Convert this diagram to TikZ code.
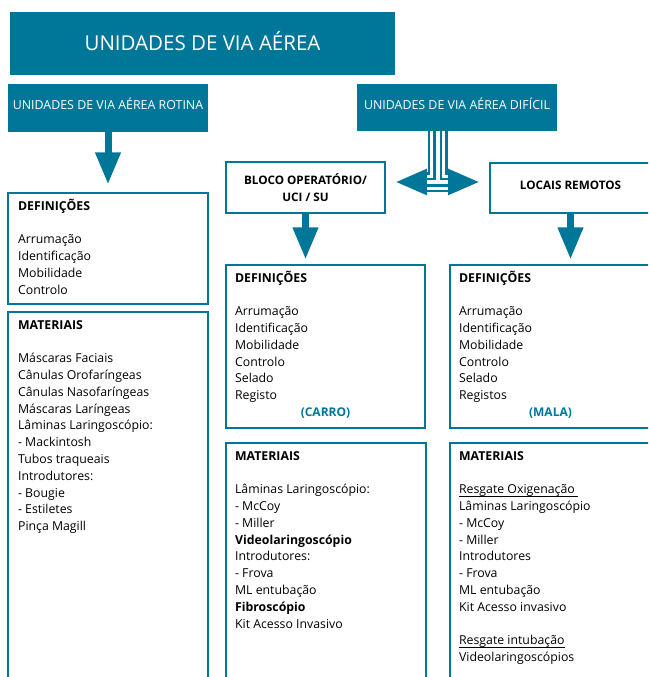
\documentclass[tikz,border=0pt]{standalone}
\usepackage{fontspec}
\setmainfont{Open Sans}
\usetikzlibrary{arrows.meta}
\definecolor{airway}{RGB}{0,119,153}
\newcommand{\undertext}[1]{\setbox0\hbox{#1}\rlap{\rule[-2.6pt]{\wd0}{0.7pt}}\box0}
\tikzset{
  headbox/.style={fill=airway, text=white, inner sep=0pt},
  placebox/.style={draw=airway, line width=1.2pt, align=center, inner sep=0pt,
    font=\fontsize{11.7}{17.5}\selectfont\bfseries},
  listbox/.style={draw=airway, line width=1.2pt, inner sep=0pt},
  listtext/.style={anchor=north west, inner sep=0pt, align=left,
    font=\fontsize{12.3}{16.8}\selectfont},
  tagtext/.style={anchor=base, inner sep=0pt, text=airway,
    font=\fontsize{12}{14}\selectfont\bfseries},
  fatarrow/.style={airway, line width=7pt, -{Triangle[length=32pt,width=24pt]}},
}
\begin{document}
\begin{tikzpicture}[x=1pt,y=-1pt]
    \clip (0,0) rectangle (648,677);

    \node[headbox, minimum width=385pt, minimum height=63pt, text height=15pt, text depth=1pt,
      font=\fontsize{20.5}{24}\selectfont] (title) at (202.5,43.5) {UNIDADES DE VIA AÉREA};
    \node[headbox, minimum width=200pt, minimum height=48pt, text height=10pt, text depth=7pt,
      font=\fontsize{12.4}{15}\selectfont] (rotina) at (108,108) {UNIDADES DE VIA AÉREA ROTINA};
    \node[headbox, minimum width=200pt, minimum height=47pt, text height=10pt, text depth=7pt,
      font=\fontsize{12.4}{15}\selectfont] (dificil) at (457,107.5) {UNIDADES DE VIA AÉREA DIFÍCIL};

    \node[placebox, minimum width=159pt, minimum height=51pt] (bloco) at (305.5,187.5)
      {BLOCO OPERATÓRIO/\\UCI / SU};
    \node[placebox, minimum width=161pt, minimum height=50pt, text height=10pt, text depth=7.6pt]
      (locais) at (570.5,188) {LOCAIS REMOTOS};

    \node[listbox, minimum width=200pt, minimum height=111pt] (def1) at (108,248.5) {};
    \node[listbox, minimum width=200pt, minimum height=378pt] (mat1) at (108,501) {};
    \node[listbox, minimum width=199pt, minimum height=163pt] (def2) at (325.5,346.5) {};
    \node[listbox, minimum width=200pt, minimum height=247pt] (mat2) at (326,566.5) {};
    \node[listbox, minimum width=201pt, minimum height=163pt] (def3) at (550.5,346.5) {};
    \node[listbox, minimum width=201pt, minimum height=247pt] (mat3) at (550.5,566.5) {};

    \node[listtext] (def1txt) at ([shift={(10.5,0)}]def1.north west)
      {{\bfseries\rule{0pt}{17.5pt}DEFINIÇÕES}\\[16.8pt]
       Arrumação\\ Identificação\\ Mobilidade\\ Controlo};
    \node[listtext] (mat1txt) at ([shift={(10.5,0)}]mat1.north west)
      {{\bfseries\rule{0pt}{17.5pt}MATERIAIS}\\[16.8pt]
       Máscaras Faciais\\ Cânulas Orofaríngeas\\ Cânulas Nasofaríngeas\\
       Máscaras Laríngeas\\ Lâminas Laringoscópio:\\ - Mackintosh\\ Tubos traqueais\\
       Introdutores:\\ - Bougie\\ - Estiletes\\ Pinça Magill};
    \node[listtext] (def2txt) at ([shift={(9.5,0)}]def2.north west)
      {{\bfseries\rule{0pt}{17.5pt}DEFINIÇÕES}\\[16.8pt]
       Arrumação\\ Identificação\\ Mobilidade\\ Controlo\\ Selado\\ Registo};
    \node[listtext] (mat2txt) at ([shift={(9.5,0)}]mat2.north west)
      {{\bfseries\rule{0pt}{17.5pt}MATERIAIS}\\[16.8pt]
       Lâminas Laringoscópio:\\ - McCoy\\ - Miller\\ \textbf{Videolaringoscópio}\\
       Introdutores:\\ - Frova\\ ML entubação\\ \textbf{Fibroscópio}\\ Kit Acesso Invasivo};
    \node[listtext] (def3txt) at ([shift={(9.5,0)}]def3.north west)
      {{\bfseries\rule{0pt}{17.5pt}DEFINIÇÕES}\\[16.8pt]
       Arrumação\\ Identificação\\ Mobilidade\\ Controlo\\ Selado\\ Registos};
    \node[listtext] (mat3txt) at ([shift={(9.5,0)}]mat3.north west)
      {{\bfseries\rule{0pt}{17.5pt}MATERIAIS}\\[16.8pt]
       \undertext{Resgate Oxigenação\ }\\ Lâminas Laringoscópio\\ - McCoy\\ - Miller\\
       Introdutores\\ - Frova\\ ML entubação\\ Kit Acesso invasivo\\[16.8pt]
       \undertext{Resgate intubação}\\ Videolaringoscópios};

    \node[tagtext] (carro) at ([yshift=12pt]def2.south) {(CARRO)};
    \node[tagtext] (mala) at ([yshift=12pt]def3.south) {(MALA)};

    \draw[fatarrow, shorten >=8pt] (rotina.south) -- (def1.north);
    \draw[fatarrow, shorten >=5pt] (bloco.south) -- (bloco.south |- def2.north);
    \draw[fatarrow, shorten >=5pt] (locais.south) -- (locais.south |- def3.north);

    \coordinate (split) at ([xshift=-19.5pt]dificil.south);
    \coordinate (ltip) at (395,182);
    \coordinate (rtip) at (480,182);
    \draw[airway, line width=20pt, -{Triangle[length=32pt,width=24pt]}] (split) |- (ltip);
    \draw[airway, line width=20pt, -{Triangle[length=32pt,width=24pt]}] (split) |- (rtip);
    \foreach \w/\c in {15/white,9/airway,4/white} {
      \draw[\c, line width=\w pt, shorten >=32pt] (split) |- (ltip);
      \draw[\c, line width=\w pt, shorten >=32pt] (split) |- (rtip);
    }
\end{tikzpicture}
\end{document}
